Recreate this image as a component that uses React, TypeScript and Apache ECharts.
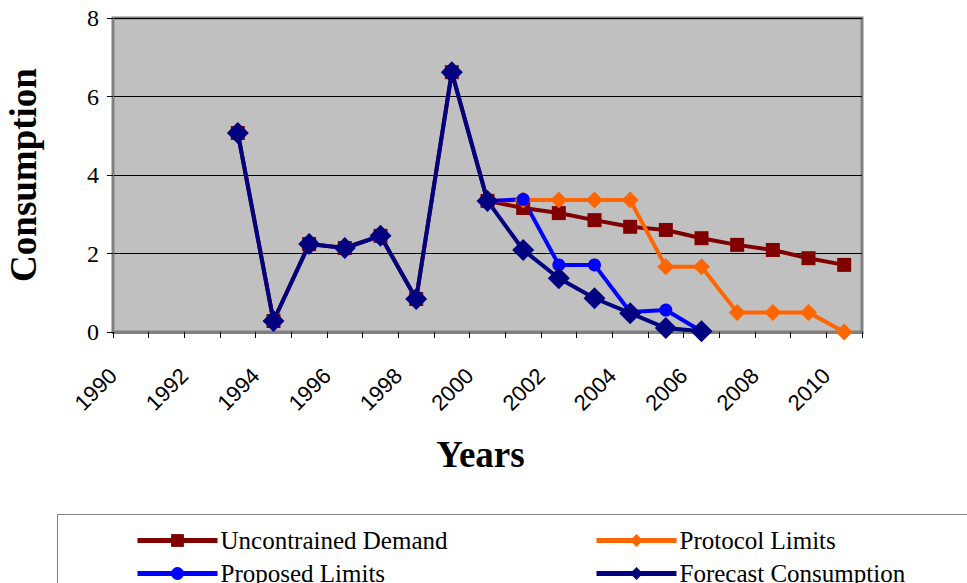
import React, { useEffect, useRef } from 'react';
import * as echarts from 'echarts';

const years = ['1990','1991','1992','1993','1994','1995','1996','1997','1998','1999','2000','2001','2002','2003','2004','2005','2006','2007','2008','2009','2010'];
const tickLabels = ['1990','1991','1992','1993','1994','1995','1996','1997','1998','1999','2000','2001','2002','2003','2004','2005','2006','2007','2008','2009','2010',''];
const yTicks = [0, 2, 4, 6, 8];

const demand = [null, null, null, 5.07, 0.28, 2.24, 2.14, 2.45, 0.84, 6.62, 3.34, 3.16, 3.03, 2.85, 2.68, 2.6, 2.39, 2.22, 2.09, 1.88, 1.71];
const protocol = [null, null, null, null, null, null, null, null, null, null, 3.34, 3.36, 3.36, 3.36, 3.36, 1.66, 1.66, 0.5, 0.5, 0.5, 0];
const proposed = [null, null, null, null, null, null, null, null, null, null, 3.34, 3.38, 1.71, 1.71, 0.51, 0.56, 0.02, null, null, null, null];
const forecast = [null, null, null, 5.07, 0.28, 2.24, 2.14, 2.45, 0.84, 6.62, 3.34, 2.09, 1.37, 0.86, 0.48, 0.1, 0.02, null, null, null, null];

const serif = '"Liberation Serif", "Times New Roman", serif';
const sans = '"Liberation Sans", Arial, sans-serif';

export default function App() {
  const ref = useRef<HTMLDivElement>(null);
  useEffect(() => {
    if (!ref.current) return;
    const chart = echarts.init(ref.current, null, { renderer: 'svg' });
    const legendText = { fontFamily: serif, fontSize: 25, color: '#000', padding: [0, 0, 0, -2] };
    const legendCommon = {
      orient: 'vertical', top: 528, height: 120, padding: 0,
      itemWidth: 80, itemHeight: 16, itemGap: 8, textStyle: legendText,
      lineStyle: { width: 5 },
    };
    chart.setOption({
      animation: false,
      backgroundColor: '#fff',
      grid: {
        left: 113, right: 105, top: 18, bottom: 251,
        outerBoundsMode: 'none', containLabel: false,
        show: true, backgroundColor: '#C0C0C0', borderColor: '#808080', borderWidth: 3,
      },
      xAxis: [
        {
          type: 'category', data: years, boundaryGap: true,
          name: 'Years', nameLocation: 'middle', nameGap: 104,
          nameTextStyle: { fontFamily: serif, fontSize: 37, fontWeight: 'bold', color: '#000', padding: [0, 14, 0, 0] },
          axisLine: { lineStyle: { color: '#808080', width: 3 } },
          axisTick: { show: true, length: 6, lineStyle: { color: '#000', width: 1 } },
          axisLabel: { show: false },
          splitLine: { show: false },
        },
        {
          type: 'category', data: tickLabels, boundaryGap: false, position: 'bottom',
          axisLine: { show: false }, axisTick: { show: false }, splitLine: { show: false },
          axisLabel: {
            interval: 1, rotate: 45, margin: 40,
            fontFamily: sans, fontSize: 22, color: '#000',
          },
        },
      ],
      yAxis: {
        type: 'value', min: yTicks[0], max: yTicks[yTicks.length - 1], interval: 2,
        name: 'Consumption', nameLocation: 'middle', nameGap: 71,
        nameTextStyle: { fontFamily: serif, fontSize: 37, fontWeight: 'bold', color: '#000' },
        axisLine: { show: true, lineStyle: { color: '#808080', width: 2 } },
        axisTick: { show: true, length: 6, lineStyle: { color: '#000' } },
        axisLabel: { fontFamily: serif, fontSize: 24, color: '#000', margin: 14 },
        splitLine: { lineStyle: { color: '#000', width: 1 } },
      },
      legend: [
        { ...legendCommon, left: 135, data: ['Uncontrained Demand', 'Proposed Limits'] },
        { ...legendCommon, left: 594, data: ['Protocol Limits', 'Forecast Consumption'] },
      ],
      graphic: [
        {
          type: 'rect', left: 57, top: 514, z: -1,
          shape: { width: 930, height: 100 },
          style: { fill: '#fff', stroke: '#808080', lineWidth: 1 },
        },
      ],
      series: [
        {
          name: 'Uncontrained Demand', type: 'line', data: demand,
          symbol: 'rect', symbolSize: 14, itemStyle: { color: '#800000' },
          lineStyle: { color: '#800000', width: 4 },
        },
        {
          name: 'Protocol Limits', type: 'line', data: protocol,
          symbol: 'diamond', symbolSize: 17, itemStyle: { color: '#FF6600' },
          lineStyle: { color: '#FF6600', width: 4 },
        },
        {
          name: 'Proposed Limits', type: 'line', data: proposed,
          symbol: 'circle', symbolSize: 13, itemStyle: { color: '#0000FF' },
          lineStyle: { color: '#0000FF', width: 4 },
        },
        {
          name: 'Forecast Consumption', type: 'line', data: forecast,
          symbol: 'diamond', symbolSize: 22, itemStyle: { color: '#000080' },
          lineStyle: { color: '#000080', width: 4 },
        },
      ],
    });
    return () => chart.dispose();
  }, []);
  return <div ref={ref} style={{ width: 967, height: 583, position: 'absolute', left: 0, top: 0 }} />;
}
